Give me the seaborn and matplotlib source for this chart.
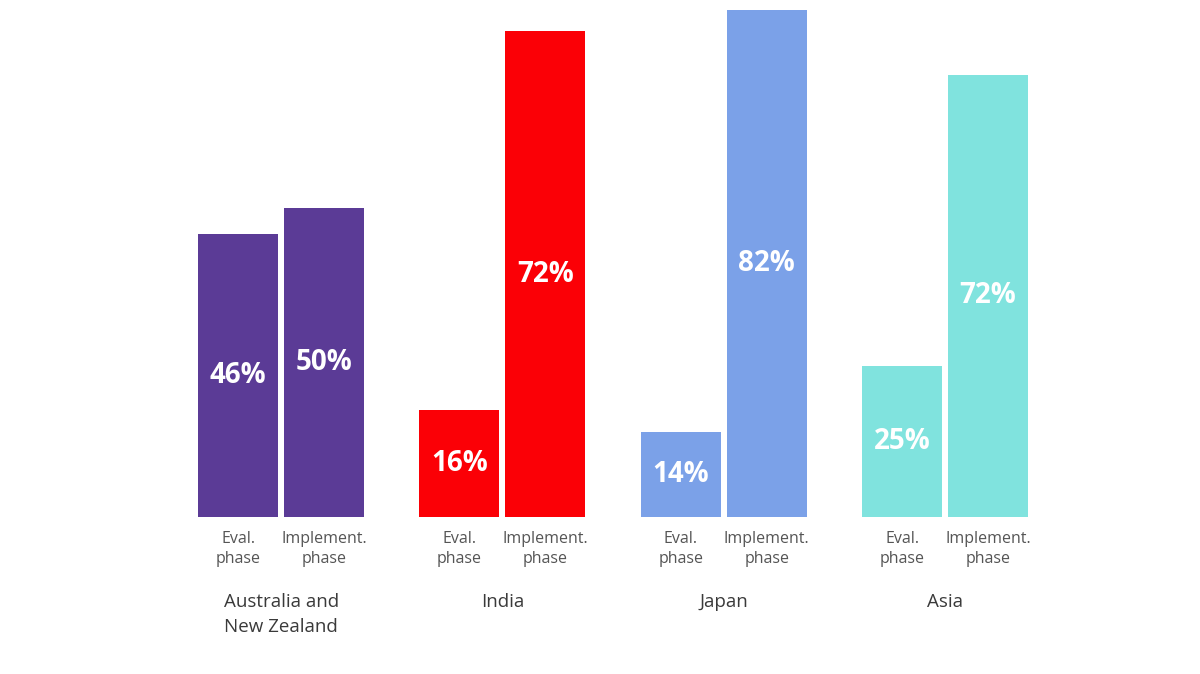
import pandas as pd
import seaborn as sns
import matplotlib.pyplot as plt

regions = ["Australia and\nNew Zealand", "India", "Japan", "Asia"]
phases = ["Eval.\nphase", "Implement.\nphase"]
labels_eval = ["46%", "16%", "14%", "25%"]
labels_impl = ["50%", "72%", "82%", "72%"]
# bar heights as drawn in the source (India is drawn on a slightly taller scale)
height_eval = [46.0, 17.4, 13.8, 24.6]
height_impl = [50.2, 79.0, 82.4, 71.9]
colors = ["#5b3b96", "#fb0006", "#7ba1e8", "#80e3de"]

d = pd.DataFrame({
    "region": regions * 2,
    "phase": [phases[0]] * 4 + [phases[1]] * 4,
    "height": height_eval + height_impl,
    "label": labels_eval + labels_impl,
})

sns.set_style("white")
plt.rcParams["font.family"] = ["Open Sans", "DejaVu Sans"]

fig = plt.figure(figsize=(12, 6.74), dpi=100)
ax = fig.add_axes([0, 0, 1, 1])
sns.barplot(data=d, x="region", y="height", hue="phase", order=regions,
            hue_order=phases, width=0.777, gap=0.07, legend=False, ax=ax,
            saturation=1)

for k, cont in enumerate(ax.containers):
    lab = labels_eval if k == 0 else labels_impl
    for i, bar in enumerate(cont):
        bar.set_facecolor(colors[i])
        bar.set_edgecolor("none")
        h = bar.get_height()
        xc = bar.get_x() + bar.get_width() / 2
        ax.text(xc, h / 2, lab[i], ha="center", va="center", color="white",
                fontsize=20, fontweight="bold")
        ax.text(xc, -2.2, phases[k], ha="center", va="top", color="#555555",
                fontsize=11.5, linespacing=1.4)

for i, r in enumerate(regions):
    ax.text(i, -12.3, r, ha="center", va="top", color="#3a3a3a",
            fontsize=13.5, linespacing=1.5)

ax.set_xlim(-1.27, 4.152)
ax.set_ylim(-25.53, 84.07)
ax.axis("off")
fig.savefig("out.png", dpi=100, facecolor="white")
